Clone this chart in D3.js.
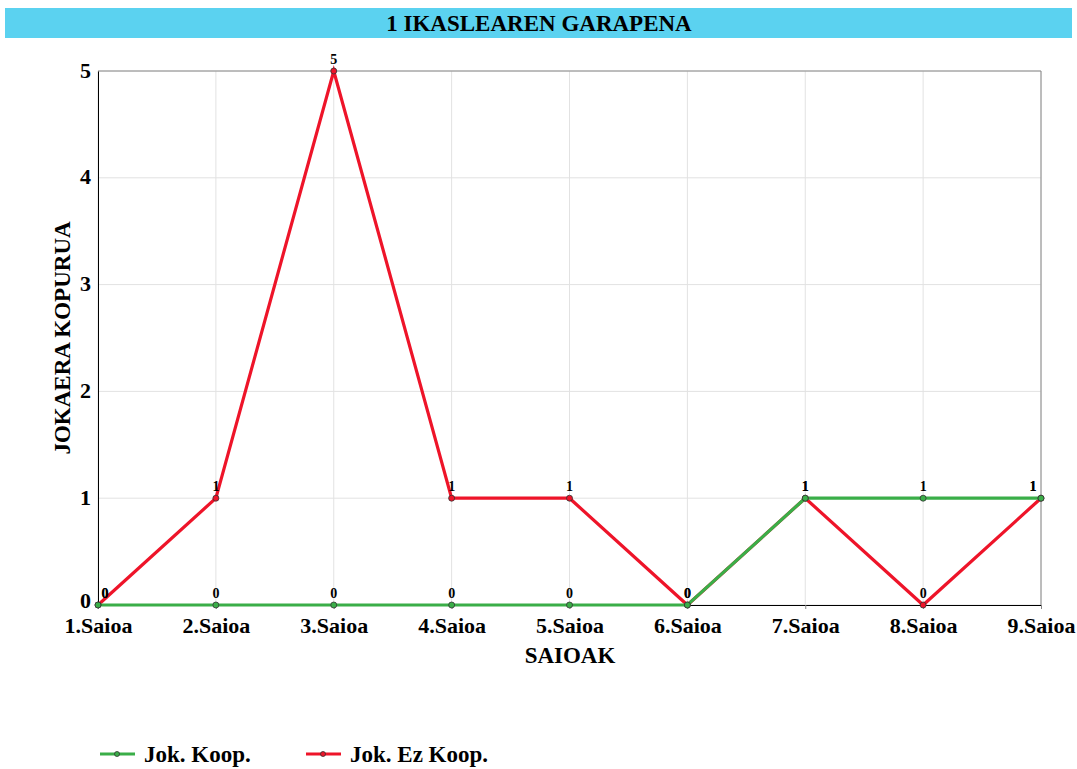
<!DOCTYPE html>
<html><head><meta charset="utf-8">
<script src="https://cdn.jsdelivr.net/npm/d3@7"></script>
<style>body{margin:0;background:#fff;} text{font-family:"Liberation Serif","Times New Roman",serif;font-weight:bold;}</style>
</head><body>
<svg id="c" width="1077" height="769"></svg>
<script>
const categories = ["1.Saioa","2.Saioa","3.Saioa","4.Saioa","5.Saioa","6.Saioa","7.Saioa","8.Saioa","9.Saioa"];
const koop = [0,0,0,0,0,0,1,1,1];
const ezKoop = [0,1,5,1,1,0,1,0,1];
const yTicks = [0,1,2,3,4,5];
const seriesNames = ["Jok. Koop.","Jok. Ez Koop."];
const colors = ["#3aae48","#ee1429"];

const svg = d3.select("#c");
const L=98,R=1041,T=71,B=605;
svg.append("rect").attr("x",5).attr("y",8).attr("width",1067).attr("height",30).attr("fill","#5bd2f0");
svg.append("text").attr("x",539).attr("y",31).attr("text-anchor","middle").attr("font-size",23).text("1 IKASLEAREN GARAPENA");

const x = d3.scalePoint().domain(categories).range([L,R]);
const y = d3.scaleLinear().domain([0,5]).range([B,T]);

// grid
svg.append("g").selectAll("line").data(categories).join("line")
  .attr("x1",d=>x(d)).attr("x2",d=>x(d)).attr("y1",T).attr("y2",B).attr("stroke","#e2e2e2");
svg.append("g").selectAll("line").data(yTicks).join("line")
  .attr("x1",L).attr("x2",R).attr("y1",d=>y(d)).attr("y2",d=>y(d)).attr("stroke","#e2e2e2");
// border
svg.append("line").attr("x1",L).attr("x2",R).attr("y1",T).attr("y2",T).attr("stroke","#888");
svg.append("line").attr("x1",R).attr("x2",R).attr("y1",T).attr("y2",B).attr("stroke","#888");

const ya = svg.append("g").attr("transform",`translate(${L},0)`).call(d3.axisLeft(y).tickValues(yTicks).tickFormat(d3.format("d")).tickSize(0).tickPadding(7));
ya.select(".domain").attr("stroke","#000");
ya.selectAll("text").attr("font-size",22).attr("font-family","Liberation Serif").attr("font-weight","bold").attr("fill","#000").attr("dy",d=>d===0?"0.12em":"0.28em");
const xa = svg.append("g").attr("transform",`translate(0,${B})`).call(d3.axisBottom(x).tickSize(4).tickPadding(8));
xa.select(".domain").attr("stroke","#000");
xa.selectAll(".tick line").attr("stroke","#888");
xa.selectAll("text").attr("font-size",22).attr("font-family","Liberation Serif").attr("font-weight","bold").attr("fill","#000");

svg.append("text").attr("x",570).attr("y",663).attr("text-anchor","middle").attr("font-size",23).text("SAIOAK");
svg.append("text").attr("transform","translate(70,338) rotate(-90)").attr("text-anchor","middle").attr("font-size",23).text("JOKAERA KOPURUA");

const line = d3.line().x((d,i)=>x(categories[i])).y(d=>y(d));
const series = [{vals:ezKoop,c:colors[1]},{vals:koop,c:colors[0]}];
series.forEach(s=>{
  svg.append("path").datum(s.vals).attr("d",line).attr("fill","none").attr("stroke",s.c).attr("stroke-width",3.2);
});
series.forEach(s=>{
  svg.append("g").selectAll("circle").data(s.vals).join("circle")
    .attr("cx",(d,i)=>x(categories[i])).attr("cy",d=>y(d)).attr("r",3)
    .attr("fill",s.c).attr("stroke","#333").attr("stroke-width",0.8);
  svg.append("g").selectAll("text").data(s.vals).join("text")
    .attr("x",(d,i)=>x(categories[i]) + (i===0?7:(i===categories.length-1?-8:0)))
    .attr("y",d=>y(d)-7).attr("text-anchor","middle").attr("font-size",14).text(d=>d);
});

// legend
const lg = [{n:seriesNames[0],c:colors[0],x:100},{n:seriesNames[1],c:colors[1],x:306}];
lg.forEach(l=>{
  svg.append("line").attr("x1",l.x).attr("x2",l.x+35).attr("y1",754).attr("y2",754).attr("stroke",l.c).attr("stroke-width",3);
  svg.append("circle").attr("cx",l.x+17).attr("cy",754).attr("r",2.5).attr("fill",l.c).attr("stroke","#333").attr("stroke-width",0.8);
  svg.append("text").attr("x",l.x+44).attr("y",762).attr("font-size",23).text(l.n);
});
</script>
</body></html>
